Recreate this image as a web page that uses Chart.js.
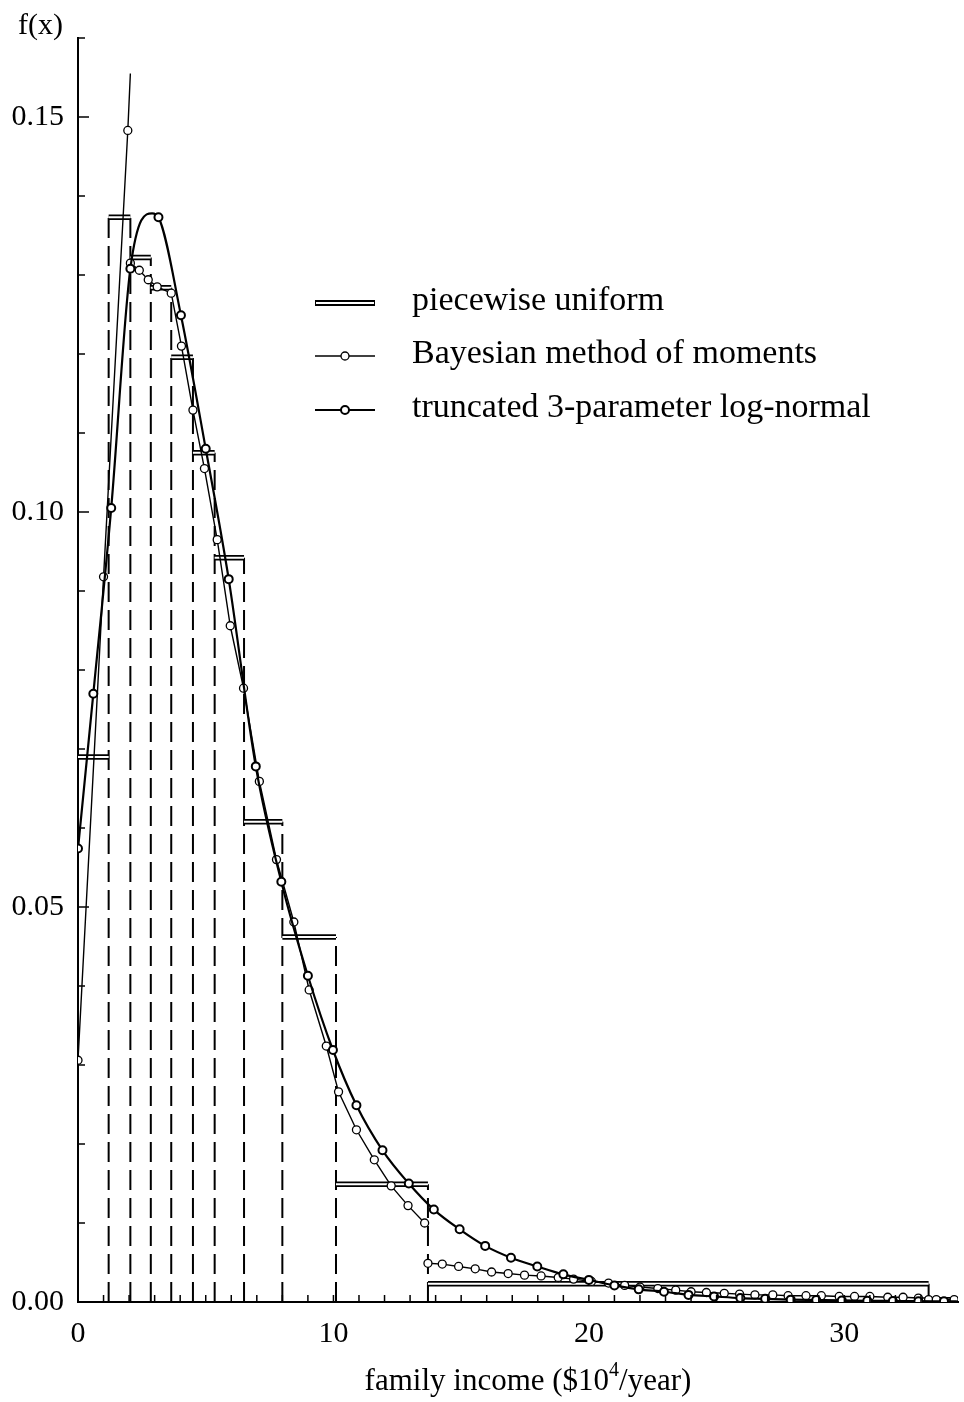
<!DOCTYPE html>
<html>
<head>
<meta charset="utf-8">
<title>family income density</title>
<script src="https://cdn.jsdelivr.net/npm/chart.js@4.4.1/dist/chart.umd.min.js"></script>
<style>
  html, body { margin: 0; padding: 0; background: #fff; }
  #wrap { width: 964px; height: 1402px; }
</style>
</head>
<body>
<div id="wrap"><canvas id="incomeChart" width="964" height="1402"></canvas></div>
<script>
// histogram (piecewise uniform) bins
const binEdges = [0, 1.2, 2.05, 2.85, 3.65, 4.5, 5.35, 6.5, 8.0, 10.1, 13.7, 33.3, 34.7];
const binHeights = [0.0690, 0.1373, 0.1322, 0.1284, 0.1196, 0.1075, 0.0942, 0.0608, 0.0462, 0.0149, 0.0023, 0.0003];

// Bayesian method of moments, one list per piece
const bayesX = [
    [0, 1.0, 1.95, 2.05],
    [2.05, 2.4, 2.75, 3.1, 3.65, 4.05, 4.5, 4.95, 5.45, 5.96, 6.48, 7.1, 7.77, 8.45, 9.05, 9.72, 10.2, 10.9, 11.6, 12.26, 12.92, 13.57, 13.7],
    [13.7, 14.26, 14.9, 15.55, 16.19, 16.84, 17.48, 18.13, 18.8, 19.4, 20.1, 20.77, 21.4, 22.0, 22.7, 23.4, 24.0, 24.6, 25.3, 25.9, 26.5, 27.2, 27.8, 28.5, 29.1, 29.8, 30.4, 31.0, 31.7, 32.3, 32.9, 33.3],
    [33.3, 33.6, 34.3, 34.7]
];
const bayesY = [
    [0.0306, 0.0918, 0.1483, 0.1555],
    [0.1315, 0.1306, 0.1294, 0.1285, 0.1277, 0.1210, 0.1129, 0.1055, 0.0965, 0.0856, 0.0777, 0.0659, 0.0560, 0.0481, 0.0395, 0.0324, 0.0266, 0.0218, 0.0180, 0.0147, 0.0122, 0.0100, 0.0097],
    [0.0049, 0.0048, 0.0045, 0.0042, 0.0038, 0.0036, 0.0034, 0.0033, 0.0031, 0.0029, 0.0026, 0.0024, 0.0021, 0.0019, 0.0017, 0.0015, 0.0013, 0.0012, 0.0011, 0.0010, 0.0009, 0.0009, 0.0008, 0.0008, 0.0008, 0.0007, 0.0007, 0.0007, 0.0006, 0.0006, 0.0005, 0.0005],
    [0.0003, 0.0003, 0.0003, 0.0003]
];

// truncated 3-parameter log-normal
const lognormX = [0, 0.6, 1.3, 2.05, 2.9, 3.15, 4.03, 5.0, 5.9, 6.96, 7.96, 9.0, 9.98, 10.9, 11.92, 12.95, 13.93, 14.94, 15.94, 16.95, 17.98, 19.0, 20.0, 21.0, 21.95, 22.94, 23.9, 24.9, 25.93, 26.9, 27.9, 28.9, 29.9, 30.9, 31.9, 32.9, 33.9, 34.7];
const lognormY = [0.0574, 0.0770, 0.1005, 0.1308, 0.1378, 0.1373, 0.1249, 0.1080, 0.0915, 0.0678, 0.0532, 0.0413, 0.0319, 0.0249, 0.0192, 0.0150, 0.0117, 0.0092, 0.0071, 0.0056, 0.0045, 0.0035, 0.0028, 0.0021, 0.0016, 0.0013, 0.0009, 0.0007, 0.0005, 0.0004, 0.0003, 0.00025, 0.0002, 0.00016, 0.00013, 0.0001, 0.00008, 0.00006];

const legendLabels = ['piecewise uniform', 'Bayesian method of moments', 'truncated 3-parameter log-normal'];
const xTitle = ['family income ($10', '4', '/year)'];
const yTitle = 'f(x)';

const SERIF = "'Liberation Serif', 'DejaVu Serif', 'Times New Roman', serif";

// build point lists for the library
function histTops() {
    const pts = [];
    binHeights.forEach(function(h, i) {
        pts.push({x: binEdges[i], y: h}, {x: binEdges[i + 1], y: h}, {x: binEdges[i + 1], y: null});
    });
    return pts;
}

function histSides() {
    const pts = [];
    for (let i = 1; i < binEdges.length - 1; i++) {
        const top = Math.max(binHeights[i - 1], binHeights[i]);
        pts.push({x: binEdges[i], y: 0}, {x: binEdges[i], y: top}, {x: binEdges[i], y: null});
    }
    return pts;
}

function pieces(xs, ys) {
    const pts = [];
    xs.forEach(function(px, k) {
        px.forEach(function(v, i) { pts.push({x: v, y: ys[k][i]}); });
        if (k < xs.length - 1) pts.push({x: px[px.length - 1], y: null});
    });
    return pts;
}

// no marker on the last point of a piece
function pieceRadius(ctx) {
    const d = ctx.dataset.data;
    const next = d[ctx.dataIndex + 1];
    return (!next || next.y === null) ? 0 : 4;
}

// the peak point 2.9 is only a shape point, no marker
function lognormRadius(ctx) {
    return ctx.dataIndex === 4 ? 0 : 4;
}

const decor = {
    id: 'decor',
    afterDraw(chart) {
        const {ctx, chartArea, scales: {x, y}} = chart;
        ctx.save();
        ctx.strokeStyle = '#000';
        ctx.lineWidth = 1.5;
        y.ticks.forEach(function(t) {
            const py = y.getPixelForValue(t.value);
            const major = Math.round(t.value * 100) % 5 === 0;
            ctx.beginPath();
            ctx.moveTo(chartArea.left, py);
            ctx.lineTo(chartArea.left + (major ? 11 : 7), py);
            ctx.stroke();
        });
        x.ticks.forEach(function(t) {
            if (Math.abs(t.value - Math.round(t.value)) > 1e-6) return;
            const px = x.getPixelForValue(t.value);
            ctx.beginPath();
            ctx.moveTo(px, chartArea.bottom);
            ctx.lineTo(px, chartArea.bottom - 7);
            ctx.stroke();
        });

        ctx.fillStyle = '#000';
        ctx.textBaseline = 'alphabetic';
        ctx.font = '30px ' + SERIF;
        ctx.fillText(yTitle, 18, 34);

        // x title with superscript
        const big = '31px ' + SERIF, small = '20px ' + SERIF;
        ctx.font = big;
        const w0 = ctx.measureText(xTitle[0]).width;
        const w2 = ctx.measureText(xTitle[2]).width;
        ctx.font = small;
        const w1 = ctx.measureText(xTitle[1]).width;
        let tx = 528 - (w0 + w1 + w2) / 2;
        const base = 1390;
        ctx.font = big;
        ctx.fillText(xTitle[0], tx, base);
        tx += w0;
        ctx.font = small;
        ctx.fillText(xTitle[1], tx, base - 14);
        tx += w1;
        ctx.font = big;
        ctx.fillText(xTitle[2], tx, base);

        // legend
        const lx0 = 315, lx1 = 375, textX = 412;
        const rows = [303, 356, 410];
        ctx.fillStyle = '#000';
        ctx.fillRect(lx0, rows[0] - 3, lx1 - lx0, 6);
        ctx.fillStyle = '#fff';
        ctx.fillRect(lx0 + 1, rows[0] - 1, lx1 - lx0 - 2, 2);

        [[1.5, 1.3], [2.2, 2]].forEach(function(st, k) {
            const ry = rows[k + 1];
            ctx.strokeStyle = '#000';
            ctx.lineWidth = st[0];
            ctx.beginPath();
            ctx.moveTo(lx0, ry);
            ctx.lineTo(lx1, ry);
            ctx.stroke();
            ctx.beginPath();
            ctx.arc((lx0 + lx1) / 2, ry, 4, 0, Math.PI * 2);
            ctx.fillStyle = '#fff';
            ctx.fill();
            ctx.lineWidth = st[1];
            ctx.stroke();
        });

        ctx.fillStyle = '#000';
        ctx.font = '34px ' + SERIF;
        ctx.textBaseline = 'middle';
        legendLabels.forEach(function(txt, k) {
            ctx.fillText(txt, textX, rows[k] - 2);
        });
        ctx.restore();
    }
};

function initIncomeChart() {
    const canvas = document.getElementById('incomeChart');
    Chart.defaults.font.family = SERIF;
    Chart.defaults.color = '#000';

    new Chart(canvas, {
        type: 'line',
        data: {
            datasets: [
                {
                    label: legendLabels[2],
                    data: lognormX.map(function(v, i) { return {x: v, y: lognormY[i]}; }),
                    borderColor: '#000',
                    borderWidth: 2.2,
                    cubicInterpolationMode: 'monotone',
                    pointRadius: lognormRadius,
                    pointBorderWidth: 2,
                    pointBackgroundColor: '#fff',
                    pointBorderColor: '#000',
                    order: 1
                },
                {
                    label: legendLabels[1],
                    data: pieces(bayesX, bayesY),
                    borderColor: '#000',
                    borderWidth: 1.4,
                    spanGaps: false,
                    pointRadius: pieceRadius,
                    pointBorderWidth: 1.3,
                    pointBackgroundColor: '#fff',
                    pointBorderColor: '#000',
                    order: 2
                },
                {
                    label: 'bar fill',
                    data: histTops(),
                    borderColor: '#fff',
                    borderWidth: 2,
                    borderCapStyle: 'butt',
                    spanGaps: false,
                    pointRadius: 0,
                    order: 3
                },
                {
                    label: legendLabels[0],
                    data: histTops(),
                    borderColor: '#000',
                    borderWidth: 5.5,
                    borderCapStyle: 'butt',
                    spanGaps: false,
                    pointRadius: 0,
                    order: 4
                },
                {
                    label: 'bin edges',
                    data: histSides(),
                    borderColor: '#000',
                    borderWidth: 2,
                    borderDash: [20, 8],
                    spanGaps: false,
                    pointRadius: 0,
                    order: 5
                }
            ]
        },
        options: {
            responsive: false,
            animation: false,
            layout: { padding: { top: 38, right: 0, left: 0, bottom: 0 } },
            plugins: {
                legend: { display: false },
                tooltip: { enabled: false }
            },
            scales: {
                x: {
                    type: 'linear',
                    min: 0,
                    max: 34.45,
                    afterFit: function(scale) {
                        scale.height = 100;
                        scale.paddingLeft = 0;
                        scale.paddingRight = 0;
                    },
                    grid: { display: false, drawTicks: false },
                    border: { display: true, color: '#000', width: 2 },
                    ticks: {
                        stepSize: 1,
                        autoSkip: false,
                        maxRotation: 0,
                        padding: 14,
                        font: { size: 30 },
                        callback: function(v) { return Math.abs(v % 10) < 1e-9 ? String(v) : ''; }
                    }
                },
                y: {
                    min: 0,
                    max: 0.16,
                    afterFit: function(scale) { scale.width = 78; },
                    grid: { display: false, drawTicks: false },
                    border: { display: true, color: '#000', width: 2 },
                    ticks: {
                        stepSize: 0.01,
                        autoSkip: false,
                        padding: 14,
                        font: { size: 30 },
                        callback: function(v) { return Math.round(v * 100) % 5 === 0 ? v.toFixed(2) : ''; }
                    }
                }
            }
        },
        plugins: [decor]
    });
}

document.addEventListener('DOMContentLoaded', function() {
    initIncomeChart();
});
</script>
</body>
</html>
